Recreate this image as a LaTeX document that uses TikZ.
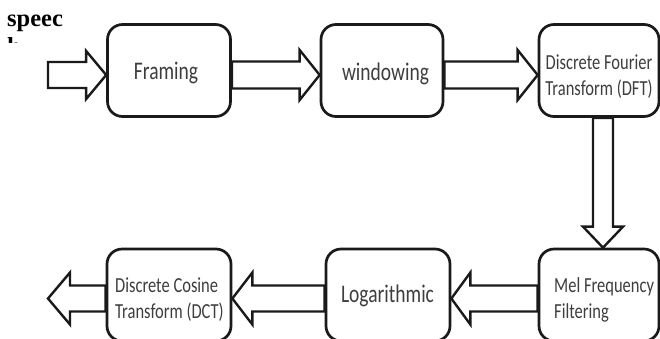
\documentclass[tikz,border=0pt]{standalone}
\usepackage{fontspec}
\setmainfont{Liberation Serif}
\newfontfamily\labelfont{Carlito}
\usetikzlibrary{calc}
\pgfdeclarelayer{back}
\pgfsetlayers{back,main}
\definecolor{edge}{RGB}{26,26,26}
\definecolor{ink}{RGB}{62,62,62}
\tikzset{
  stage/.style={draw=edge, line width=2.7pt, rounded corners=15pt, fill=white,
    minimum height=92pt, inner sep=0pt},
  oneline/.style={font=\labelfont\fontsize{19.5}{23}\selectfont, text=ink,
    inner sep=0pt, anchor=base, yscale=1.3, transform shape},
  twoline/.style={font=\labelfont\fontsize{16.5}{20}\selectfont, text=ink,
    inner sep=0pt, yscale=1.3, transform shape},
  blockline/.style={draw=edge, line width=2.4pt, fill=white, line join=miter},
}
% hollow block arrow: #1 shaft half-width, #2 head half-width, #3 head length, #4 tail, #5 tip
\newcommand\blockarrow[5]{%
  \coordinate (ba-base) at ($(#5)!#3!(#4)$);
  \draw[blockline] ($(#4)!#1!90:(#5)$) -- ($(ba-base)!#1!-90:(#4)$)
    -- ($(ba-base)!#2!-90:(#4)$) -- (#5) -- ($(ba-base)!#2!90:(#4)$)
    -- ($(ba-base)!#1!90:(#4)$) -- ($(#4)!#1!-90:(#5)$) -- cycle;}
\begin{document}
\begin{tikzpicture}[x=1pt, y=-1pt]
\useasboundingbox (0,0) rectangle (660,338);
\clip (0,0) rectangle (660,338);

% processing stages
\node[stage, minimum width=123pt] (framing) at (169,70.5) {};
\node[stage, minimum width=122pt] (windowing) at (382,70.5) {};
\node[stage, minimum width=120pt] (dft) at (599,70.5) {};
\node[stage, minimum width=120pt] (mel) at (599,295) {};
\node[stage, minimum width=124pt] (log) at (388,295) {};
\node[stage, minimum width=124pt] (dct) at (169,295) {};

% stage labels
\node[oneline] (framing-t) at (166,79.5) {Framing};
\node[oneline] (windowing-t) at (385.5,80) {windowing};
\node[oneline] (log-t) at (387.5,302) {Logarithmic};
\node[twoline, align=center, anchor=base] (dft-t) at (599,95) {Discrete Fourier\\Transform (DFT)};
\node[twoline, align=left, anchor=base west] (mel-t) at (554,318) {Mel Frequency\\Filtering};
\node[twoline, align=left, anchor=base west] (dct-t) at (115,318) {Discrete Cosine\\Transform (DCT)};

% input label
\node[font=\bfseries\fontsize{24.5}{28}\selectfont, anchor=base west, inner sep=0pt] (speech) at (7,26) {speec};
\begin{scope}
  \clip (0,34) rectangle (40,42);
  \node[font=\bfseries\fontsize{24.5}{28}\selectfont, anchor=base west, inner sep=0pt] (speech-h) at (7,54) {h};
\end{scope}

% arrow end points
\coordinate (src) at (48,75);
\coordinate (sink) at (48,298.5);
\coordinate (f-in) at ($(framing.west)+(0,4.5)$);
\coordinate (f-out) at ($(framing.east)+(0,4.5)$);
\coordinate (w-in) at ($(windowing.west)+(0,4.5)$);
\coordinate (w-out) at ($(windowing.east)+(0,4.5)$);
\coordinate (d-in) at ($(dft.west)+(0,4.5)$);
\coordinate (d-out) at ($(dft.south)+(4,0)$);
\coordinate (m-in) at ($(mel.north)+(4,0)$);
\coordinate (m-out) at ($(mel.west)+(0,3.5)$);
\coordinate (l-in) at ($(log.east)+(0,3.5)$);
\coordinate (l-out) at ($(log.west)+(0,3.5)$);
\coordinate (c-in) at ($(dct.east)+(0,3.5)$);
\coordinate (c-out) at ($(dct.west)+(0,3.5)$);

\begin{pgfonlayer}{back}
  \blockarrow{13pt}{24pt}{20pt}{src}{f-in}
  \blockarrow{13.5pt}{25pt}{20pt}{f-out}{w-in}
  \blockarrow{13.5pt}{25pt}{20pt}{w-out}{d-in}
  \blockarrow{10pt}{20pt}{21pt}{d-out}{m-in}
  \blockarrow{13pt}{26pt}{19pt}{m-out}{l-in}
  \blockarrow{13pt}{26pt}{20pt}{l-out}{c-in}
  \blockarrow{13pt}{26pt}{22pt}{c-out}{sink}
\end{pgfonlayer}
\end{tikzpicture}
\end{document}
